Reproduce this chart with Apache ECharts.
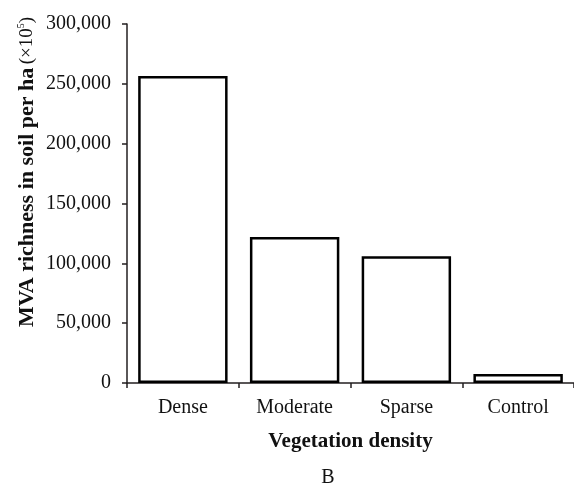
<!DOCTYPE html>
<html>
<head>
<meta charset="utf-8">
<script src="https://cdn.jsdelivr.net/npm/echarts@6/dist/echarts.min.js"></script>
<style>
  html, body { margin: 0; padding: 0; background: #fff; }
  #chart { width: 574px; height: 487px; }
</style>
</head>
<body>
<div id="chart"></div>
<script>
  var categories = ['Dense', 'Moderate', 'Sparse', 'Control'];
  var richness = [256500, 122000, 106000, 7500];
  var yTicks = [0, 50000, 100000, 150000, 200000, 250000, 300000];

  var axisColor = '#231f20';
  var serif = '"Liberation Serif", "Times New Roman", serif';

  var chart = echarts.init(document.getElementById('chart'));

  function fmt(v) {
    return v.toLocaleString('en-US');
  }

  var option = {
    animation: false,
    backgroundColor: '#fff',
    grid: {
      left: 127,
      top: 24,
      width: 450,
      bottom: 104
    },
    xAxis: {
      type: 'category',
      data: categories,
      name: 'Vegetation density',
      nameLocation: 'middle',
      nameGap: 48,
      nameTextStyle: {
        fontFamily: serif,
        fontWeight: 'bold',
        fontSize: 21,
        color: '#111'
      },
      axisLine: { lineStyle: { color: axisColor, width: 1.5 } },
      axisTick: { show: true, length: 5, lineStyle: { color: axisColor, width: 1.5 } },
      axisLabel: { margin: 15, fontFamily: serif, fontSize: 20, color: '#111' }
    },
    yAxis: {
      type: 'value',
      min: yTicks[0],
      max: yTicks[yTicks.length - 1],
      interval: 50000,
      splitLine: { show: false },
      axisLine: { show: true, lineStyle: { color: axisColor, width: 1.5 } },
      axisTick: { show: true, length: 5, lineStyle: { color: axisColor, width: 1.5 } },
      axisLabel: {
        margin: 16,
        fontFamily: serif,
        fontSize: 20,
        color: '#111',
        formatter: fmt
      }
    },
    series: [{
      type: 'bar',
      data: richness,
      barWidth: '80%',
      itemStyle: {
        color: '#fff',
        borderColor: '#000',
        borderWidth: 2.5
      }
    }],
    graphic: [{
      // y axis title, sits a bit above the grid centre like the original
      type: 'text',
      x: 27,
      y: 172,
      rotation: Math.PI / 2,
      style: {
        text: '{b|MVA richness in soil per ha} {n|(×10}{s|5}{n|)}',
        align: 'center',
        verticalAlign: 'middle',
        rich: {
          b: { fontFamily: serif, fontWeight: 'bold', fontSize: 22, fill: '#111' },
          n: { fontFamily: serif, fontSize: 19, fill: '#111' },
          s: { fontFamily: serif, fontSize: 10, fill: '#111', verticalAlign: 'top', padding: [0, 0, 10, 0] }
        }
      }
    }, {
      type: 'text',
      x: 328,
      y: 478,
      style: {
        text: 'B',
        font: '20px ' + serif,
        fill: '#111',
        align: 'center',
        verticalAlign: 'middle'
      }
    }]
  };

  chart.setOption(option);
</script>
</body>
</html>
